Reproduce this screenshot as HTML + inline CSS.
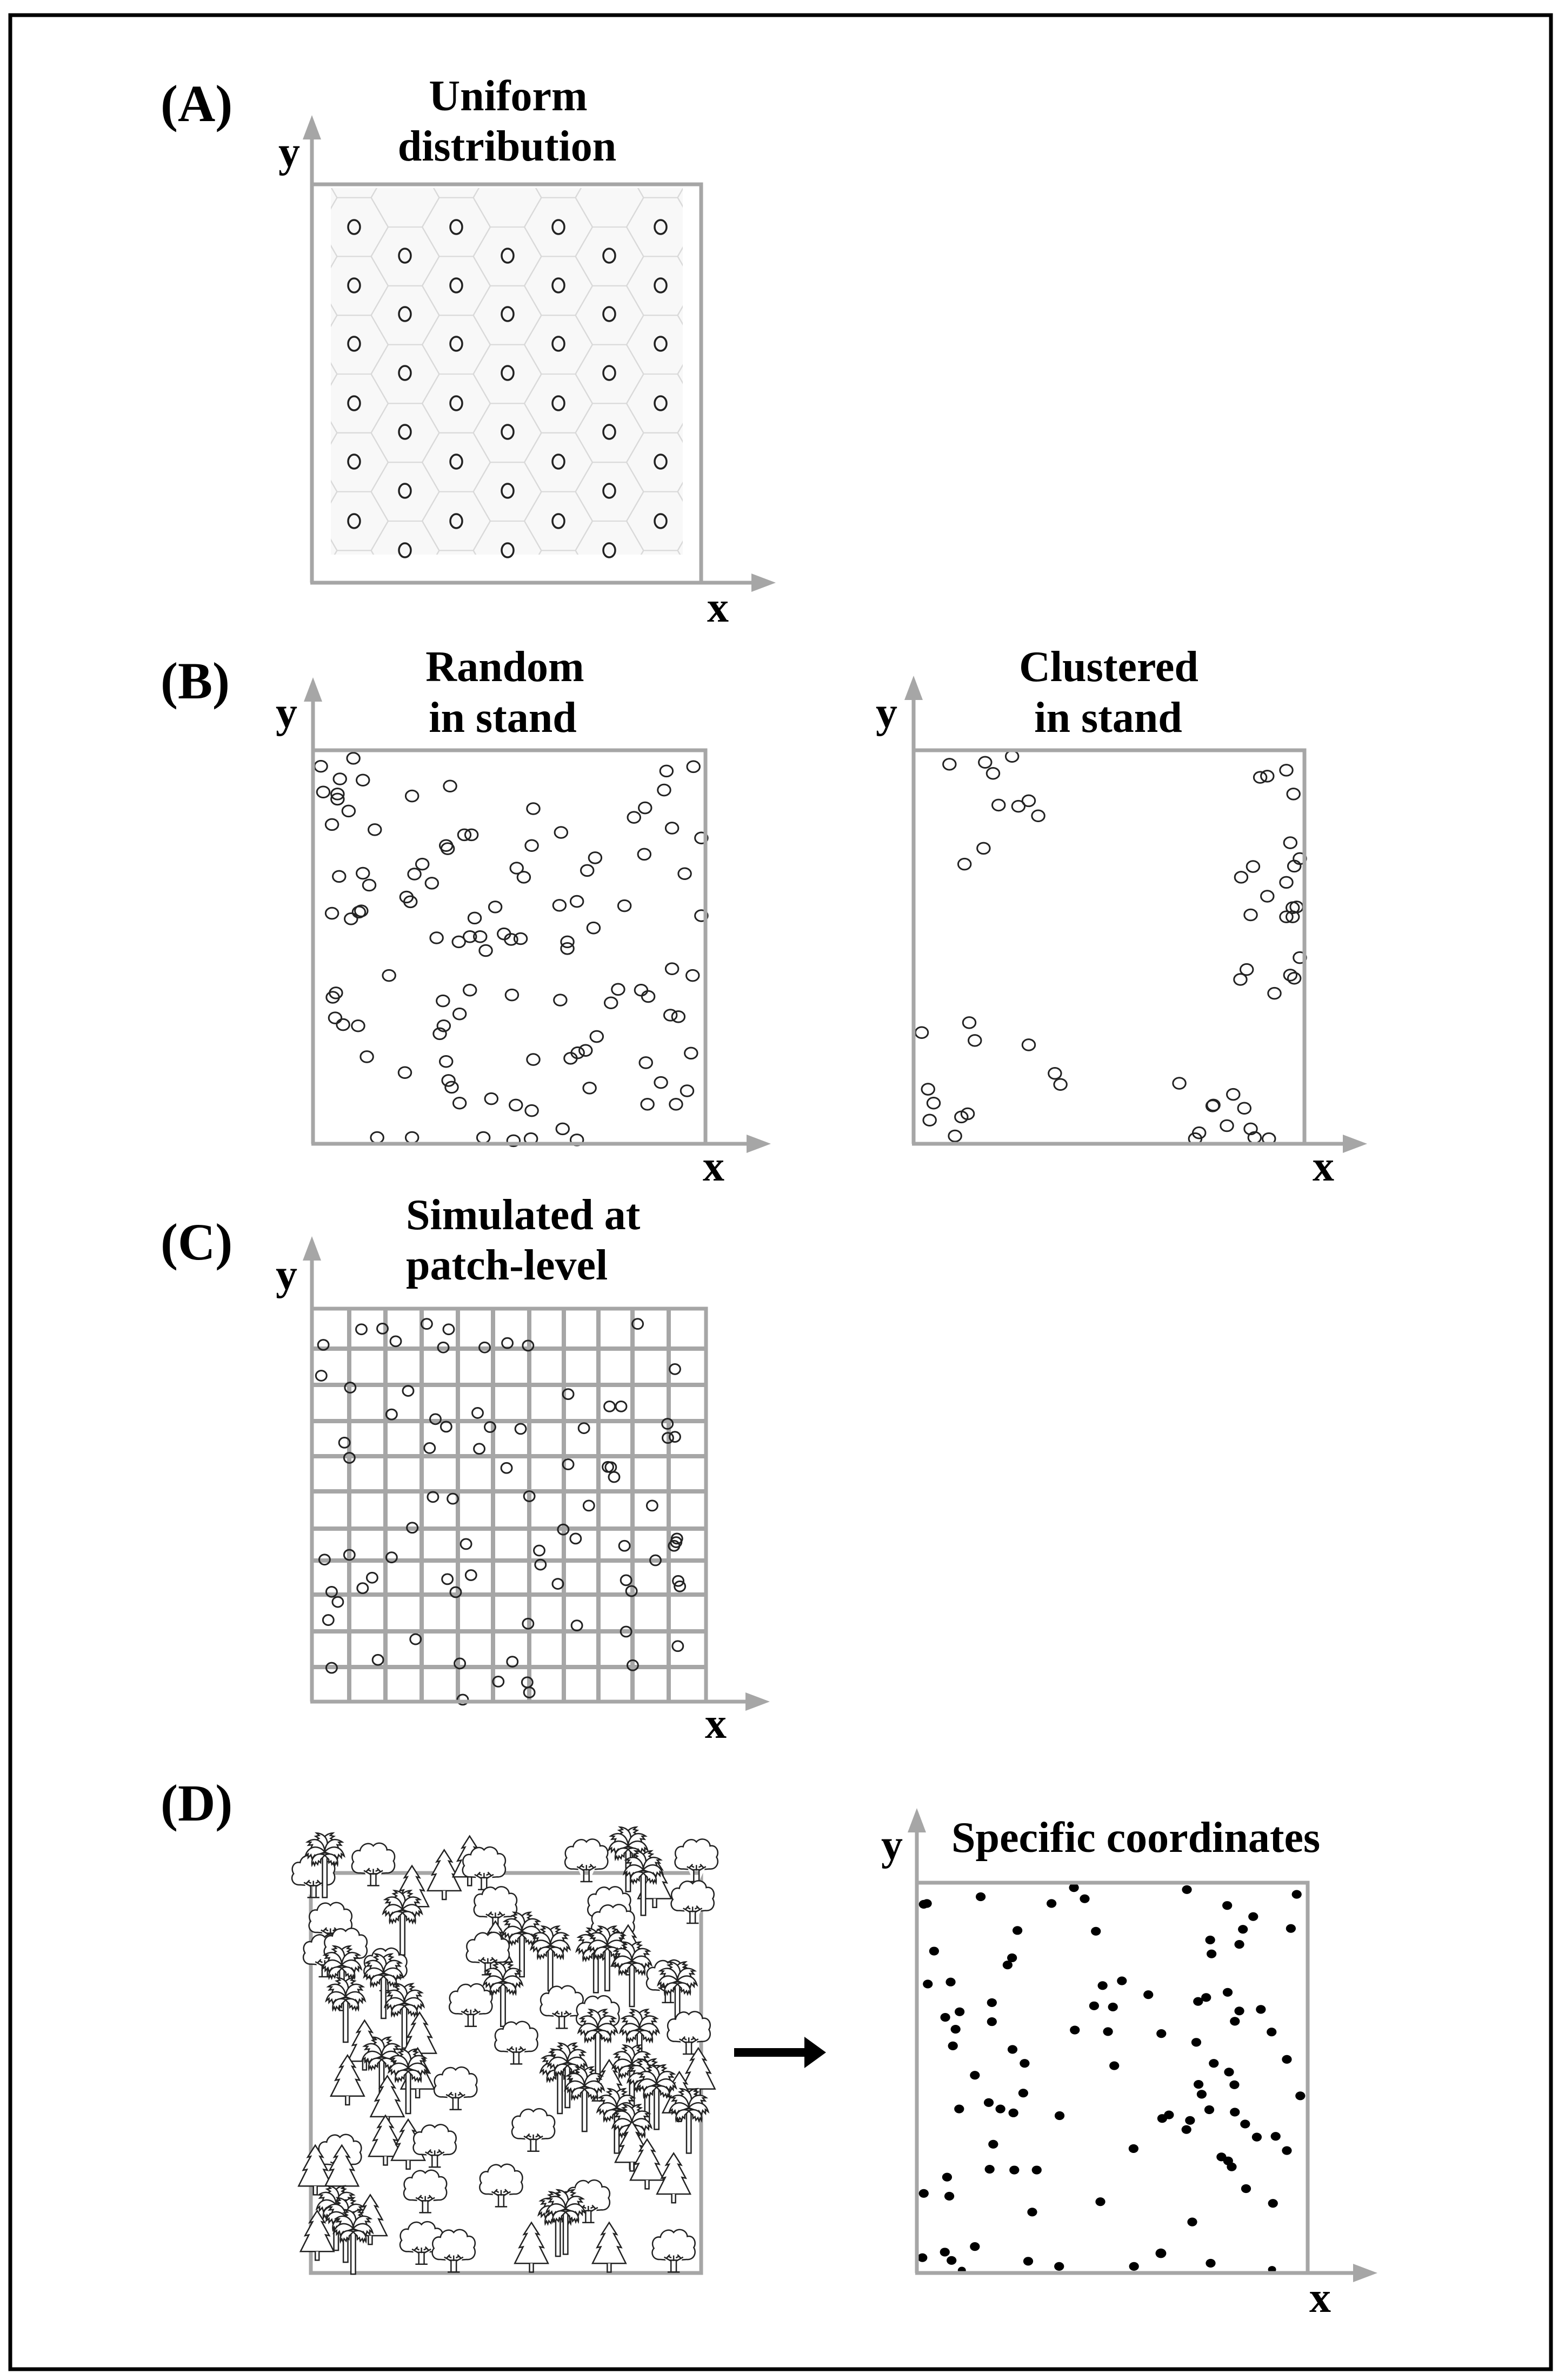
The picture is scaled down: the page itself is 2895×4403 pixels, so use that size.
<!DOCTYPE html>
<html><head><meta charset="utf-8"><style>
html,body{margin:0;padding:0;background:#fff}
svg{display:block}
text{font-family:"Liberation Serif",serif;font-weight:bold;fill:#000}
.ax{stroke:#a6a6a6;stroke-width:7;fill:none}
.ah{fill:#a6a6a6}
.oc{fill:none;stroke:#222;stroke-width:3.5}
.ns{vector-effect:non-scaling-stroke}
</style></head><body>
<svg width="2895" height="4403" viewBox="0 0 2895 4403" xmlns="http://www.w3.org/2000/svg">
<defs>
<path id="hex" d="M-62.7,0 L-31.35,-54.4 L31.35,-54.4 L62.7,0 L31.35,54.4 L-31.35,54.4 Z" fill="none" stroke="#d9d9d9" stroke-width="2"/>
<clipPath id="clipA"><rect x="612" y="348" width="651" height="678"/></clipPath>
<g id="bl">
<path class="ns" fill="#fff" stroke="#222" stroke-width="2.5" d="M-8,-30 L-35,-32 C-55,-30 -62,-50 -52,-60 C-62,-75 -50,-92 -35,-88 C-32,-105 -10,-112 0,-100 C12,-114 35,-106 36,-90 C52,-94 62,-75 53,-62 C62,-48 52,-30 35,-32 L8,-30 Z"/>
<path class="ns" fill="#fff" stroke="#222" stroke-width="2.5" d="M-7,0 L-7,-28 L-25,-38 M7,0 L7,-28 L25,-38 M0,-28 L0,-42 M-16,0 H16 M-18,-36 L-10,-44 M18,-36 L10,-44 M-20,-34 L-14,-40 L-6,-36 M20,-34 L14,-40 L6,-36"/>
</g>
<g id="pn">
<path class="ns" fill="#fff" stroke="#222" stroke-width="2.5" d="M0,-125 L-20,-95 L-12,-97 L-32,-62 L-22,-64 L-44,-22 L44,-22 L22,-64 L32,-62 L12,-97 L20,-95 Z"/>
<path class="ns" fill="#fff" stroke="#222" stroke-width="2.5" d="M-5,-22 V0 H5 V-22"/>
</g>
<path id="leaf" class="ns" fill="#fff" stroke="#222" stroke-width="2.5" d="M0,0 C15,-20 42,-20 52,6 L44,1 L45,11 L37,4 L35,14 L27,6 L24,14 L18,5 C10,3 4,2 0,0 Z"/>
<g id="pm">
<path class="ns" fill="#fff" stroke="#222" stroke-width="2.5" d="M-6,0 V-112 H6 V0 Z"/>
<g transform="translate(0,-115)">
<use href="#leaf" transform="rotate(-72)"/>
<use href="#leaf" transform="scale(-1,1) rotate(-72)"/>
<use href="#leaf" transform="rotate(-35)"/>
<use href="#leaf" transform="scale(-1,1) rotate(-35)"/>
<use href="#leaf" transform="rotate(5)"/>
<use href="#leaf" transform="scale(-1,1) rotate(5)"/>
<use href="#leaf" transform="translate(0,8) rotate(30) scale(0.8)"/>
<use href="#leaf" transform="translate(0,8) scale(-1,1) rotate(30) scale(0.8)"/>
</g>
</g>
</defs>

<rect x="19" y="28" width="2850" height="4355" fill="none" stroke="#000" stroke-width="7"/>

<text x="297" y="224" font-size="96">(A)</text>
<text x="297" y="1292" font-size="96">(B)</text>
<text x="297" y="2330" font-size="96">(C)</text>
<text x="297" y="3368" font-size="96">(D)</text>

<!-- Panel A -->
<rect x="612" y="348" width="651" height="678" fill="#f8f8f8"/>
<g clip-path="url(#clipA)">
<use href="#hex" x="466" y="311.2"/><use href="#hex" x="655" y="311.2"/><use href="#hex" x="844" y="311.2"/><use href="#hex" x="1033" y="311.2"/><use href="#hex" x="1222" y="311.2"/><use href="#hex" x="1411" y="311.2"/>
<use href="#hex" x="466" y="420"/><use href="#hex" x="655" y="420"/><use href="#hex" x="844" y="420"/><use href="#hex" x="1033" y="420"/><use href="#hex" x="1222" y="420"/><use href="#hex" x="1411" y="420"/>
<use href="#hex" x="466" y="528.8"/><use href="#hex" x="655" y="528.8"/><use href="#hex" x="844" y="528.8"/><use href="#hex" x="1033" y="528.8"/><use href="#hex" x="1222" y="528.8"/><use href="#hex" x="1411" y="528.8"/>
<use href="#hex" x="466" y="637.6"/><use href="#hex" x="655" y="637.6"/><use href="#hex" x="844" y="637.6"/><use href="#hex" x="1033" y="637.6"/><use href="#hex" x="1222" y="637.6"/><use href="#hex" x="1411" y="637.6"/>
<use href="#hex" x="466" y="746.4"/><use href="#hex" x="655" y="746.4"/><use href="#hex" x="844" y="746.4"/><use href="#hex" x="1033" y="746.4"/><use href="#hex" x="1222" y="746.4"/><use href="#hex" x="1411" y="746.4"/>
<use href="#hex" x="466" y="855.2"/><use href="#hex" x="655" y="855.2"/><use href="#hex" x="844" y="855.2"/><use href="#hex" x="1033" y="855.2"/><use href="#hex" x="1222" y="855.2"/><use href="#hex" x="1411" y="855.2"/>
<use href="#hex" x="466" y="964"/><use href="#hex" x="655" y="964"/><use href="#hex" x="844" y="964"/><use href="#hex" x="1033" y="964"/><use href="#hex" x="1222" y="964"/><use href="#hex" x="1411" y="964"/>
<use href="#hex" x="466" y="1072.8"/><use href="#hex" x="655" y="1072.8"/><use href="#hex" x="844" y="1072.8"/><use href="#hex" x="1033" y="1072.8"/><use href="#hex" x="1222" y="1072.8"/><use href="#hex" x="1411" y="1072.8"/>
<use href="#hex" x="560.5" y="365.6"/><use href="#hex" x="749.5" y="365.6"/><use href="#hex" x="938.5" y="365.6"/><use href="#hex" x="1127.5" y="365.6"/><use href="#hex" x="1316.5" y="365.6"/>
<use href="#hex" x="560.5" y="474.4"/><use href="#hex" x="749.5" y="474.4"/><use href="#hex" x="938.5" y="474.4"/><use href="#hex" x="1127.5" y="474.4"/><use href="#hex" x="1316.5" y="474.4"/>
<use href="#hex" x="560.5" y="583.2"/><use href="#hex" x="749.5" y="583.2"/><use href="#hex" x="938.5" y="583.2"/><use href="#hex" x="1127.5" y="583.2"/><use href="#hex" x="1316.5" y="583.2"/>
<use href="#hex" x="560.5" y="692"/><use href="#hex" x="749.5" y="692"/><use href="#hex" x="938.5" y="692"/><use href="#hex" x="1127.5" y="692"/><use href="#hex" x="1316.5" y="692"/>
<use href="#hex" x="560.5" y="800.8"/><use href="#hex" x="749.5" y="800.8"/><use href="#hex" x="938.5" y="800.8"/><use href="#hex" x="1127.5" y="800.8"/><use href="#hex" x="1316.5" y="800.8"/>
<use href="#hex" x="560.5" y="909.6"/><use href="#hex" x="749.5" y="909.6"/><use href="#hex" x="938.5" y="909.6"/><use href="#hex" x="1127.5" y="909.6"/><use href="#hex" x="1316.5" y="909.6"/>
<use href="#hex" x="560.5" y="1018.4"/><use href="#hex" x="749.5" y="1018.4"/><use href="#hex" x="938.5" y="1018.4"/><use href="#hex" x="1127.5" y="1018.4"/><use href="#hex" x="1316.5" y="1018.4"/>
</g>
<g class="oc">
<ellipse cx="655" cy="420" rx="11" ry="13"/><ellipse cx="844" cy="420" rx="11" ry="13"/><ellipse cx="1033" cy="420" rx="11" ry="13"/><ellipse cx="1222" cy="420" rx="11" ry="13"/>
<ellipse cx="655" cy="528" rx="11" ry="13"/><ellipse cx="844" cy="528" rx="11" ry="13"/><ellipse cx="1033" cy="528" rx="11" ry="13"/><ellipse cx="1222" cy="528" rx="11" ry="13"/>
<ellipse cx="655" cy="636" rx="11" ry="13"/><ellipse cx="844" cy="636" rx="11" ry="13"/><ellipse cx="1033" cy="636" rx="11" ry="13"/><ellipse cx="1222" cy="636" rx="11" ry="13"/>
<ellipse cx="655" cy="746" rx="11" ry="13"/><ellipse cx="844" cy="746" rx="11" ry="13"/><ellipse cx="1033" cy="746" rx="11" ry="13"/><ellipse cx="1222" cy="746" rx="11" ry="13"/>
<ellipse cx="655" cy="854" rx="11" ry="13"/><ellipse cx="844" cy="854" rx="11" ry="13"/><ellipse cx="1033" cy="854" rx="11" ry="13"/><ellipse cx="1222" cy="854" rx="11" ry="13"/>
<ellipse cx="655" cy="964" rx="11" ry="13"/><ellipse cx="844" cy="964" rx="11" ry="13"/><ellipse cx="1033" cy="964" rx="11" ry="13"/><ellipse cx="1222" cy="964" rx="11" ry="13"/>
<ellipse cx="749" cy="473" rx="11" ry="13"/><ellipse cx="939" cy="473" rx="11" ry="13"/><ellipse cx="1127" cy="473" rx="11" ry="13"/>
<ellipse cx="749" cy="581" rx="11" ry="13"/><ellipse cx="939" cy="581" rx="11" ry="13"/><ellipse cx="1127" cy="581" rx="11" ry="13"/>
<ellipse cx="749" cy="690" rx="11" ry="13"/><ellipse cx="939" cy="690" rx="11" ry="13"/><ellipse cx="1127" cy="690" rx="11" ry="13"/>
<ellipse cx="749" cy="799" rx="11" ry="13"/><ellipse cx="939" cy="799" rx="11" ry="13"/><ellipse cx="1127" cy="799" rx="11" ry="13"/>
<ellipse cx="749" cy="908" rx="11" ry="13"/><ellipse cx="939" cy="908" rx="11" ry="13"/><ellipse cx="1127" cy="908" rx="11" ry="13"/>
<ellipse cx="749" cy="1018" rx="11" ry="13"/><ellipse cx="939" cy="1018" rx="11" ry="13"/><ellipse cx="1127" cy="1018" rx="11" ry="13"/>
</g>
<path class="ax" d="M577,1078 V250 M577,341 H1297 V1078 M574,1078 H1395"/>
<polygon class="ah" points="560,258 577,213 594,258"/>
<polygon class="ah" points="1390,1061 1435,1078 1390,1095"/>
<text x="940" y="204" font-size="80" text-anchor="middle">Uniform</text>
<text x="938" y="297" font-size="80" text-anchor="middle">distribution</text>
<text x="515" y="308" font-size="80">y</text>
<text x="1308" y="1150" font-size="80">x</text>

<!-- Panel B -->
<g transform="translate(400,1150) scale(1.4663,0.7331)" fill="none" stroke="#222">
<g stroke-width="3">
<ellipse class="ns" cx="132" cy="365" rx="8" ry="14"/><ellipse class="ns" cx="173" cy="345" rx="8" ry="14"/><ellipse class="ns" cx="156" cy="397" rx="8" ry="14"/><ellipse class="ns" cx="185" cy="400" rx="8" ry="14"/><ellipse class="ns" cx="135" cy="430" rx="8" ry="14"/><ellipse class="ns" cx="153" cy="435" rx="8" ry="14"/><ellipse class="ns" cx="153" cy="448" rx="8" ry="14"/><ellipse class="ns" cx="167" cy="478" rx="8" ry="14"/><ellipse class="ns" cx="146" cy="512" rx="8" ry="14"/><ellipse class="ns" cx="200" cy="525" rx="8" ry="14"/><ellipse class="ns" cx="247" cy="440" rx="8" ry="14"/><ellipse class="ns" cx="295" cy="415" rx="8" ry="14"/><ellipse class="ns" cx="400" cy="472" rx="8" ry="14"/><ellipse class="ns" cx="435" cy="532" rx="8" ry="14"/><ellipse class="ns" cx="398" cy="565" rx="8" ry="14"/><ellipse class="ns" cx="290" cy="565" rx="8" ry="14"/><ellipse class="ns" cx="292" cy="573" rx="8" ry="14"/><ellipse class="ns" cx="313" cy="538" rx="8" ry="14"/><ellipse class="ns" cx="322" cy="538" rx="8" ry="14"/><ellipse class="ns" cx="260" cy="612" rx="8" ry="14"/><ellipse class="ns" cx="250" cy="637" rx="8" ry="14"/><ellipse class="ns" cx="272" cy="660" rx="8" ry="14"/><ellipse class="ns" cx="185" cy="635" rx="8" ry="14"/><ellipse class="ns" cx="193" cy="665" rx="8" ry="14"/><ellipse class="ns" cx="155" cy="643" rx="8" ry="14"/><ellipse class="ns" cx="240" cy="695" rx="8" ry="14"/><ellipse class="ns" cx="245" cy="707" rx="8" ry="14"/><ellipse class="ns" cx="146" cy="736" rx="8" ry="14"/><ellipse class="ns" cx="170" cy="750" rx="8" ry="14"/><ellipse class="ns" cx="180" cy="733" rx="8" ry="14"/><ellipse class="ns" cx="183" cy="730" rx="8" ry="14"/><ellipse class="ns" cx="352" cy="720" rx="8" ry="14"/><ellipse class="ns" cx="326" cy="748" rx="8" ry="14"/><ellipse class="ns" cx="278" cy="798" rx="8" ry="14"/><ellipse class="ns" cx="306" cy="808" rx="8" ry="14"/><ellipse class="ns" cx="320" cy="795" rx="8" ry="14"/><ellipse class="ns" cx="333" cy="795" rx="8" ry="14"/><ellipse class="ns" cx="340" cy="830" rx="8" ry="14"/><ellipse class="ns" cx="363" cy="788" rx="8" ry="14"/><ellipse class="ns" cx="372" cy="802" rx="8" ry="14"/><ellipse class="ns" cx="384" cy="800" rx="8" ry="14"/><ellipse class="ns" cx="379" cy="622" rx="8" ry="14"/><ellipse class="ns" cx="388" cy="645" rx="8" ry="14"/><ellipse class="ns" cx="433" cy="716" rx="8" ry="14"/><ellipse class="ns" cx="455" cy="706" rx="8" ry="14"/><ellipse class="ns" cx="476" cy="773" rx="8" ry="14"/><ellipse class="ns" cx="515" cy="717" rx="8" ry="14"/><ellipse class="ns" cx="443" cy="808" rx="8" ry="14"/><ellipse class="ns" cx="443" cy="825" rx="8" ry="14"/><ellipse class="ns" cx="468" cy="628" rx="8" ry="14"/><ellipse class="ns" cx="478" cy="596" rx="8" ry="14"/><ellipse class="ns" cx="540" cy="587" rx="8" ry="14"/><ellipse class="ns" cx="527" cy="494" rx="8" ry="14"/><ellipse class="ns" cx="541" cy="470" rx="8" ry="14"/><ellipse class="ns" cx="575" cy="521" rx="8" ry="14"/><ellipse class="ns" cx="565" cy="425" rx="8" ry="14"/><ellipse class="ns" cx="568" cy="377" rx="8" ry="14"/><ellipse class="ns" cx="602" cy="366" rx="8" ry="14"/><ellipse class="ns" cx="612" cy="546" rx="8" ry="14"/><ellipse class="ns" cx="591" cy="636" rx="8" ry="14"/><ellipse class="ns" cx="612" cy="742" rx="8" ry="14"/><ellipse class="ns" cx="218" cy="893" rx="8" ry="14"/><ellipse class="ns" cx="151" cy="937" rx="8" ry="14"/><ellipse class="ns" cx="147" cy="948" rx="8" ry="14"/><ellipse class="ns" cx="286" cy="957" rx="8" ry="14"/><ellipse class="ns" cx="320" cy="930" rx="8" ry="14"/><ellipse class="ns" cx="373" cy="942" rx="8" ry="14"/><ellipse class="ns" cx="434" cy="955" rx="8" ry="14"/><ellipse class="ns" cx="307" cy="990" rx="8" ry="14"/><ellipse class="ns" cx="287" cy="1020" rx="8" ry="14"/><ellipse class="ns" cx="282" cy="1040" rx="8" ry="14"/><ellipse class="ns" cx="150" cy="1000" rx="8" ry="14"/><ellipse class="ns" cx="160" cy="1017" rx="8" ry="14"/><ellipse class="ns" cx="179" cy="1020" rx="8" ry="14"/><ellipse class="ns" cx="190" cy="1098" rx="8" ry="14"/><ellipse class="ns" cx="238" cy="1138" rx="8" ry="14"/><ellipse class="ns" cx="290" cy="1110" rx="8" ry="14"/><ellipse class="ns" cx="293" cy="1158" rx="8" ry="14"/><ellipse class="ns" cx="297" cy="1175" rx="8" ry="14"/><ellipse class="ns" cx="307" cy="1215" rx="8" ry="14"/><ellipse class="ns" cx="347" cy="1204" rx="8" ry="14"/><ellipse class="ns" cx="378" cy="1220" rx="8" ry="14"/><ellipse class="ns" cx="398" cy="1234" rx="8" ry="14"/><ellipse class="ns" cx="400" cy="1105" rx="8" ry="14"/><ellipse class="ns" cx="447" cy="1102" rx="8" ry="14"/><ellipse class="ns" cx="456" cy="1088" rx="8" ry="14"/><ellipse class="ns" cx="466" cy="1082" rx="8" ry="14"/><ellipse class="ns" cx="480" cy="1047" rx="8" ry="14"/><ellipse class="ns" cx="498" cy="962" rx="8" ry="14"/><ellipse class="ns" cx="507" cy="928" rx="8" ry="14"/><ellipse class="ns" cx="536" cy="930" rx="8" ry="14"/><ellipse class="ns" cx="545" cy="946" rx="8" ry="14"/><ellipse class="ns" cx="575" cy="876" rx="8" ry="14"/><ellipse class="ns" cx="601" cy="893" rx="8" ry="14"/><ellipse class="ns" cx="573" cy="993" rx="8" ry="14"/><ellipse class="ns" cx="583" cy="997" rx="8" ry="14"/><ellipse class="ns" cx="599" cy="1089" rx="8" ry="14"/><ellipse class="ns" cx="542" cy="1113" rx="8" ry="14"/><ellipse class="ns" cx="561" cy="1163" rx="8" ry="14"/><ellipse class="ns" cx="594" cy="1184" rx="8" ry="14"/><ellipse class="ns" cx="580" cy="1218" rx="8" ry="14"/><ellipse class="ns" cx="544" cy="1218" rx="8" ry="14"/><ellipse class="ns" cx="471" cy="1177" rx="8" ry="14"/><ellipse class="ns" cx="437" cy="1280" rx="8" ry="14"/><ellipse class="ns" cx="203" cy="1302" rx="8" ry="14"/><ellipse class="ns" cx="247" cy="1302" rx="8" ry="14"/><ellipse class="ns" cx="337" cy="1302" rx="8" ry="14"/><ellipse class="ns" cx="375" cy="1310" rx="8" ry="14"/><ellipse class="ns" cx="397" cy="1305" rx="8" ry="14"/><ellipse class="ns" cx="455" cy="1308" rx="8" ry="14"/>
<ellipse class="ns" cx="925" cy="360" rx="8" ry="14"/><ellipse class="ns" cx="970" cy="355" rx="8" ry="14"/><ellipse class="ns" cx="1004" cy="340" rx="8" ry="14"/><ellipse class="ns" cx="980" cy="383" rx="8" ry="14"/><ellipse class="ns" cx="987" cy="463" rx="8" ry="14"/><ellipse class="ns" cx="1012" cy="466" rx="8" ry="14"/><ellipse class="ns" cx="1025" cy="452" rx="8" ry="14"/><ellipse class="ns" cx="1037" cy="490" rx="8" ry="14"/><ellipse class="ns" cx="968" cy="572" rx="8" ry="14"/><ellipse class="ns" cx="944" cy="612" rx="8" ry="14"/><ellipse class="ns" cx="1317" cy="393" rx="8" ry="14"/><ellipse class="ns" cx="1326" cy="390" rx="8" ry="14"/><ellipse class="ns" cx="1350" cy="375" rx="8" ry="14"/><ellipse class="ns" cx="1359" cy="435" rx="8" ry="14"/><ellipse class="ns" cx="1355" cy="558" rx="8" ry="14"/><ellipse class="ns" cx="1367" cy="598" rx="8" ry="14"/><ellipse class="ns" cx="1360" cy="617" rx="8" ry="14"/><ellipse class="ns" cx="1308" cy="618" rx="8" ry="14"/><ellipse class="ns" cx="1293" cy="645" rx="8" ry="14"/><ellipse class="ns" cx="1350" cy="658" rx="8" ry="14"/><ellipse class="ns" cx="1326" cy="693" rx="8" ry="14"/><ellipse class="ns" cx="1358" cy="722" rx="8" ry="14"/><ellipse class="ns" cx="1363" cy="720" rx="8" ry="14"/><ellipse class="ns" cx="1350" cy="745" rx="8" ry="14"/><ellipse class="ns" cx="1358" cy="745" rx="8" ry="14"/><ellipse class="ns" cx="1305" cy="740" rx="8" ry="14"/><ellipse class="ns" cx="1367" cy="848" rx="8" ry="14"/><ellipse class="ns" cx="1300" cy="878" rx="8" ry="14"/><ellipse class="ns" cx="1292" cy="903" rx="8" ry="14"/><ellipse class="ns" cx="1355" cy="892" rx="8" ry="14"/><ellipse class="ns" cx="1360" cy="900" rx="8" ry="14"/><ellipse class="ns" cx="1335" cy="938" rx="8" ry="14"/><ellipse class="ns" cx="890" cy="1037" rx="8" ry="14"/><ellipse class="ns" cx="950" cy="1012" rx="8" ry="14"/><ellipse class="ns" cx="957" cy="1057" rx="8" ry="14"/><ellipse class="ns" cx="1025" cy="1068" rx="8" ry="14"/><ellipse class="ns" cx="1058" cy="1140" rx="8" ry="14"/><ellipse class="ns" cx="1065" cy="1168" rx="8" ry="14"/><ellipse class="ns" cx="898" cy="1180" rx="8" ry="14"/><ellipse class="ns" cx="905" cy="1215" rx="8" ry="14"/><ellipse class="ns" cx="900" cy="1258" rx="8" ry="14"/><ellipse class="ns" cx="940" cy="1250" rx="8" ry="14"/><ellipse class="ns" cx="948" cy="1242" rx="8" ry="14"/><ellipse class="ns" cx="932" cy="1298" rx="8" ry="14"/><ellipse class="ns" cx="1215" cy="1165" rx="8" ry="14"/><ellipse class="ns" cx="1283" cy="1193" rx="8" ry="14"/><ellipse class="ns" cx="1257" cy="1222" rx="8" ry="14"/><ellipse class="ns" cx="1258" cy="1220" rx="8" ry="14"/><ellipse class="ns" cx="1297" cy="1228" rx="8" ry="14"/><ellipse class="ns" cx="1275" cy="1272" rx="8" ry="14"/><ellipse class="ns" cx="1305" cy="1280" rx="8" ry="14"/><ellipse class="ns" cx="1240" cy="1290" rx="8" ry="14"/><ellipse class="ns" cx="1235" cy="1305" rx="8" ry="14"/><ellipse class="ns" cx="1310" cy="1302" rx="8" ry="14"/><ellipse class="ns" cx="1328" cy="1305" rx="8" ry="14"/>
</g></g>
<path class="ax" d="M579,2116 V1295 M579,1388 H1305 V2116 M576,2116 H1386"/>
<polygon class="ah" points="562,1298 579,1253 596,1298"/>
<polygon class="ah" points="1381,2099 1426,2116 1381,2133"/>
<path class="ax" d="M1690,2116 V1292 M1690,1388 H2413 V2116 M1687,2116 H2489"/>
<polygon class="ah" points="1673,1295 1690,1250 1707,1295"/>
<polygon class="ah" points="2484,2099 2529,2116 2484,2133"/>
<text x="934" y="1260" font-size="80" text-anchor="middle">Random</text>
<text x="930" y="1354" font-size="80" text-anchor="middle">in stand</text>
<text x="2051" y="1260" font-size="80" text-anchor="middle">Clustered</text>
<text x="2050" y="1354" font-size="80" text-anchor="middle">in stand</text>
<text x="510" y="1345" font-size="80">y</text>
<text x="1620" y="1345" font-size="80">y</text>
<text x="1300" y="2184" font-size="80">x</text>
<text x="2428" y="2184" font-size="80">x</text>

<!-- Panel C -->
<g stroke="#a6a6a6" stroke-width="8" fill="none">
<path d="M646,2421 V3148 M713,2421 V3148 M780,2421 V3148 M847,2421 V3148 M912,2421 V3148 M979,2421 V3148 M1043,2421 V3148 M1107,2421 V3148 M1170,2421 V3148 M1237,2421 V3148"/>
<path d="M577,2495 H1306 M577,2562 H1306 M577,2629 H1306 M577,2694 H1306 M577,2759 H1306 M577,2828 H1306 M577,2887 H1306 M577,2950 H1306 M577,3018 H1306 M577,3084 H1306"/>
</g>
<g transform="translate(250,2200) scale(0.7651,0.6698)" fill="none" stroke="#222" stroke-width="3">
<ellipse class="ns" cx="455" cy="430" rx="13" ry="14"/><ellipse class="ns" cx="547" cy="387" rx="13" ry="14"/><ellipse class="ns" cx="598" cy="385" rx="13" ry="14"/><ellipse class="ns" cx="630" cy="420" rx="13" ry="14"/><ellipse class="ns" cx="705" cy="372" rx="13" ry="14"/><ellipse class="ns" cx="758" cy="387" rx="13" ry="14"/><ellipse class="ns" cx="745" cy="437" rx="13" ry="14"/><ellipse class="ns" cx="845" cy="437" rx="13" ry="14"/><ellipse class="ns" cx="900" cy="425" rx="13" ry="14"/><ellipse class="ns" cx="950" cy="432" rx="13" ry="14"/><ellipse class="ns" cx="1215" cy="372" rx="13" ry="14"/><ellipse class="ns" cx="450" cy="515" rx="13" ry="14"/><ellipse class="ns" cx="520" cy="548" rx="13" ry="14"/><ellipse class="ns" cx="660" cy="557" rx="13" ry="14"/><ellipse class="ns" cx="1305" cy="497" rx="13" ry="14"/><ellipse class="ns" cx="1047" cy="566" rx="13" ry="14"/><ellipse class="ns" cx="1147" cy="600" rx="13" ry="14"/><ellipse class="ns" cx="1175" cy="600" rx="13" ry="14"/><ellipse class="ns" cx="620" cy="622" rx="13" ry="14"/><ellipse class="ns" cx="726" cy="635" rx="13" ry="14"/><ellipse class="ns" cx="752" cy="656" rx="13" ry="14"/><ellipse class="ns" cx="828" cy="618" rx="13" ry="14"/><ellipse class="ns" cx="858" cy="657" rx="13" ry="14"/><ellipse class="ns" cx="932" cy="662" rx="13" ry="14"/><ellipse class="ns" cx="1085" cy="660" rx="13" ry="14"/><ellipse class="ns" cx="1287" cy="648" rx="13" ry="14"/><ellipse class="ns" cx="1288" cy="687" rx="13" ry="14"/><ellipse class="ns" cx="1305" cy="684" rx="13" ry="14"/><ellipse class="ns" cx="506" cy="700" rx="13" ry="14"/><ellipse class="ns" cx="518" cy="742" rx="13" ry="14"/><ellipse class="ns" cx="712" cy="715" rx="13" ry="14"/><ellipse class="ns" cx="832" cy="717" rx="13" ry="14"/><ellipse class="ns" cx="898" cy="770" rx="13" ry="14"/><ellipse class="ns" cx="1047" cy="760" rx="13" ry="14"/><ellipse class="ns" cx="1143" cy="767" rx="13" ry="14"/><ellipse class="ns" cx="1150" cy="768" rx="13" ry="14"/><ellipse class="ns" cx="1158" cy="795" rx="13" ry="14"/><ellipse class="ns" cx="720" cy="850" rx="13" ry="14"/><ellipse class="ns" cx="768" cy="855" rx="13" ry="14"/><ellipse class="ns" cx="953" cy="848" rx="13" ry="14"/><ellipse class="ns" cx="1097" cy="874" rx="13" ry="14"/><ellipse class="ns" cx="1250" cy="874" rx="13" ry="14"/><ellipse class="ns" cx="670" cy="935" rx="13" ry="14"/><ellipse class="ns" cx="1035" cy="940" rx="13" ry="14"/><ellipse class="ns" cx="1065" cy="965" rx="13" ry="14"/><ellipse class="ns" cx="800" cy="980" rx="13" ry="14"/><ellipse class="ns" cx="977" cy="998" rx="13" ry="14"/><ellipse class="ns" cx="980" cy="1037" rx="13" ry="14"/><ellipse class="ns" cx="1183" cy="985" rx="13" ry="14"/><ellipse class="ns" cx="1303" cy="985" rx="13" ry="14"/><ellipse class="ns" cx="1310" cy="965" rx="13" ry="14"/><ellipse class="ns" cx="1308" cy="975" rx="13" ry="14"/><ellipse class="ns" cx="458" cy="1023" rx="13" ry="14"/><ellipse class="ns" cx="518" cy="1010" rx="13" ry="14"/><ellipse class="ns" cx="620" cy="1017" rx="13" ry="14"/><ellipse class="ns" cx="1258" cy="1025" rx="13" ry="14"/><ellipse class="ns" cx="573" cy="1073" rx="13" ry="14"/><ellipse class="ns" cx="550" cy="1102" rx="13" ry="14"/><ellipse class="ns" cx="755" cy="1077" rx="13" ry="14"/><ellipse class="ns" cx="812" cy="1066" rx="13" ry="14"/><ellipse class="ns" cx="1022" cy="1090" rx="13" ry="14"/><ellipse class="ns" cx="1187" cy="1080" rx="13" ry="14"/><ellipse class="ns" cx="1313" cy="1082" rx="13" ry="14"/><ellipse class="ns" cx="1317" cy="1097" rx="13" ry="14"/><ellipse class="ns" cx="475" cy="1112" rx="13" ry="14"/><ellipse class="ns" cx="490" cy="1140" rx="13" ry="14"/><ellipse class="ns" cx="775" cy="1113" rx="13" ry="14"/><ellipse class="ns" cx="1200" cy="1110" rx="13" ry="14"/><ellipse class="ns" cx="467" cy="1190" rx="13" ry="14"/><ellipse class="ns" cx="950" cy="1200" rx="13" ry="14"/><ellipse class="ns" cx="1068" cy="1205" rx="13" ry="14"/><ellipse class="ns" cx="1187" cy="1222" rx="13" ry="14"/><ellipse class="ns" cx="678" cy="1243" rx="13" ry="14"/><ellipse class="ns" cx="1312" cy="1262" rx="13" ry="14"/><ellipse class="ns" cx="587" cy="1300" rx="13" ry="14"/><ellipse class="ns" cx="475" cy="1322" rx="13" ry="14"/><ellipse class="ns" cx="785" cy="1310" rx="13" ry="14"/><ellipse class="ns" cx="912" cy="1305" rx="13" ry="14"/><ellipse class="ns" cx="1203" cy="1315" rx="13" ry="14"/><ellipse class="ns" cx="878" cy="1360" rx="13" ry="14"/><ellipse class="ns" cx="948" cy="1362" rx="13" ry="14"/><ellipse class="ns" cx="953" cy="1390" rx="13" ry="14"/><ellipse class="ns" cx="792" cy="1410" rx="13" ry="14"/>
</g>
<path class="ax" d="M577,3148 V2330 M577,2421 H1306 V3148 M574,3148 H1384"/>
<polygon class="ah" points="560,2332 577,2287 594,2332"/>
<polygon class="ah" points="1379,3131 1424,3148 1379,3165"/>
<text x="751" y="2274" font-size="80">Simulated at</text>
<text x="751" y="2367" font-size="80">patch-level</text>
<text x="510" y="2385" font-size="80">y</text>
<text x="1304" y="3215" font-size="80">x</text>

<!-- Panel D left -->
<rect x="575" y="3465" width="722" height="740" fill="none" stroke="#a6a6a6" stroke-width="7"/>
<g transform="translate(250,3250) scale(0.7015,0.7334)">
<use href="#bl" x="470" y="355"/><use href="#pm" x="500" y="355"/><use href="#bl" x="628" y="325"/><use href="#pn" x="815" y="360"/><use href="#pn" x="882" y="325"/><use href="#bl" x="920" y="335"/><use href="#bl" x="1190" y="315"/><use href="#bl" x="1480" y="315"/><use href="#pm" x="1300" y="340"/><use href="#pn" x="1370" y="380"/>
<use href="#pn" x="730" y="400"/><use href="#pm" x="1340" y="400"/><use href="#bl" x="950" y="435"/><use href="#bl" x="1250" y="435"/><use href="#bl" x="1470" y="420"/><use href="#bl" x="515" y="475"/><use href="#bl" x="1260" y="480"/><use href="#pm" x="705" y="500"/>
<use href="#bl" x="500" y="555"/><use href="#bl" x="555" y="540"/><use href="#pn" x="950" y="540"/><use href="#pn" x="1300" y="550"/><use href="#bl" x="930" y="550"/><use href="#pm" x="1020" y="555"/><use href="#pm" x="1095" y="590"/><use href="#pm" x="1215" y="595"/><use href="#pm" x="1245" y="590"/>
<use href="#bl" x="660" y="590"/><use href="#bl" x="1405" y="620"/><use href="#pm" x="1310" y="630"/><use href="#pm" x="545" y="640"/><use href="#pm" x="655" y="660"/><use href="#bl" x="885" y="680"/><use href="#pm" x="970" y="680"/><use href="#bl" x="1125" y="685"/><use href="#pm" x="1430" y="680"/>
<use href="#bl" x="1220" y="710"/><use href="#pm" x="555" y="720"/><use href="#pm" x="710" y="735"/><use href="#bl" x="1460" y="750"/><use href="#bl" x="1005" y="775"/><use href="#pn" x="750" y="770"/><use href="#pn" x="605" y="790"/><use href="#pm" x="1220" y="800"/><use href="#pm" x="1330" y="800"/>
<use href="#pn" x="745" y="860"/><use href="#pn" x="560" y="878"/><use href="#pm" x="650" y="870"/><use href="#pm" x="720" y="900"/><use href="#bl" x="845" y="890"/><use href="#pn" x="1250" y="890"/><use href="#pm" x="1120" y="900"/><use href="#pm" x="1140" y="885"/><use href="#pm" x="1310" y="890"/><use href="#pn" x="1485" y="860"/>
<use href="#pn" x="1435" y="920"/><use href="#pm" x="1350" y="925"/><use href="#pm" x="1375" y="940"/><use href="#pm" x="1185" y="945"/><use href="#pn" x="665" y="930"/><use href="#bl" x="1050" y="995"/><use href="#pm" x="1460" y="1000"/><use href="#pm" x="1270" y="1000"/>
<use href="#pn" x="660" y="1030"/><use href="#pn" x="720" y="1040"/><use href="#bl" x="790" y="1035"/><use href="#pm" x="1310" y="1040"/><use href="#pn" x="1310" y="1045"/><use href="#bl" x="540" y="1060"/><use href="#pn" x="1350" y="1090"/><use href="#pn" x="475" y="1105"/><use href="#pn" x="545" y="1105"/><use href="#pn" x="1420" y="1125"/>
<use href="#bl" x="965" y="1135"/><use href="#bl" x="765" y="1150"/><use href="#bl" x="1195" y="1175"/><use href="#pn" x="620" y="1230"/><use href="#pm" x="530" y="1245"/><use href="#pm" x="1115" y="1260"/><use href="#pm" x="1135" y="1255"/><use href="#pn" x="480" y="1270"/><use href="#pm" x="555" y="1275"/>
<use href="#bl" x="755" y="1280"/><use href="#bl" x="840" y="1300"/><use href="#pn" x="1045" y="1300"/><use href="#pn" x="1250" y="1300"/><use href="#bl" x="1420" y="1300"/><use href="#pm" x="575" y="1305"/>
</g>

<polygon points="1358,3789 1488,3789 1488,3768 1528,3797 1488,3826 1488,3805 1358,3805" fill="#000"/>

<!-- Panel D right -->
<g transform="translate(1300,3250) scale(0.8292,0.7337)" fill="#000">
<circle cx="493" cy="372" r="11"/><circle cx="500" cy="370" r="11"/><circle cx="620" cy="353" r="11"/><circle cx="778" cy="370" r="11"/><circle cx="828" cy="330" r="11"/><circle cx="852" cy="358" r="11"/><circle cx="1080" cy="335" r="11"/><circle cx="1170" cy="375" r="11"/><circle cx="1325" cy="347" r="11"/><circle cx="1228" cy="403" r="11"/><circle cx="1205" cy="435" r="11"/><circle cx="1312" cy="433" r="11"/><circle cx="702" cy="438" r="11"/><circle cx="877" cy="440" r="11"/><circle cx="1132" cy="462" r="11"/><circle cx="1197" cy="473" r="11"/><circle cx="1135" cy="497" r="11"/><circle cx="516" cy="490" r="11"/><circle cx="690" cy="507" r="11"/><circle cx="680" cy="525" r="11"/><circle cx="502" cy="573" r="11"/><circle cx="553" cy="568" r="11"/><circle cx="645" cy="620" r="11"/><circle cx="573" cy="643" r="11"/><circle cx="541" cy="657" r="11"/><circle cx="564" cy="687" r="11"/><circle cx="645" cy="668" r="11"/><circle cx="558" cy="729" r="11"/><circle cx="892" cy="577" r="11"/><circle cx="935" cy="565" r="11"/><circle cx="994" cy="600" r="11"/><circle cx="873" cy="628" r="11"/><circle cx="915" cy="631" r="11"/><circle cx="1105" cy="617" r="11"/><circle cx="1123" cy="607" r="11"/><circle cx="1171" cy="594" r="11"/><circle cx="1197" cy="641" r="11"/><circle cx="1187" cy="667" r="11"/><circle cx="1245" cy="637" r="11"/><circle cx="830" cy="689" r="11"/><circle cx="904" cy="693" r="11"/><circle cx="1023" cy="698" r="11"/><circle cx="1101" cy="720" r="11"/><circle cx="1269" cy="694" r="11"/><circle cx="691" cy="738" r="11"/><circle cx="718" cy="773" r="11"/><circle cx="918" cy="779" r="11"/><circle cx="1140" cy="773" r="11"/><circle cx="1303" cy="763" r="11"/><circle cx="607" cy="803" r="11"/><circle cx="1174" cy="795" r="11"/><circle cx="1186" cy="827" r="11"/><circle cx="1106" cy="826" r="11"/><circle cx="1113" cy="851" r="11"/><circle cx="715" cy="848" r="11"/><circle cx="1333" cy="855" r="11"/><circle cx="572" cy="888" r="11"/><circle cx="638" cy="872" r="11"/><circle cx="664" cy="888" r="11"/><circle cx="693" cy="898" r="11"/><circle cx="796" cy="905" r="11"/><circle cx="1130" cy="890" r="11"/><circle cx="1187" cy="896" r="11"/><circle cx="1025" cy="912" r="11"/><circle cx="1040" cy="903" r="11"/><circle cx="1087" cy="917" r="11"/><circle cx="1079" cy="940" r="11"/><circle cx="1210" cy="926" r="11"/><circle cx="1236" cy="959" r="11"/><circle cx="1278" cy="957" r="11"/><circle cx="1303" cy="993" r="11"/><circle cx="648" cy="977" r="11"/><circle cx="961" cy="988" r="11"/><circle cx="1157" cy="1009" r="11"/><circle cx="1172" cy="1019" r="11"/><circle cx="1180" cy="1034" r="11"/><circle cx="640" cy="1040" r="11"/><circle cx="695" cy="1042" r="11"/><circle cx="745" cy="1042" r="11"/><circle cx="545" cy="1060" r="11"/><circle cx="493" cy="1101" r="11"/><circle cx="550" cy="1108" r="11"/><circle cx="887" cy="1122" r="11"/><circle cx="1212" cy="1089" r="11"/><circle cx="1272" cy="1126" r="11"/><circle cx="735" cy="1148" r="11"/><circle cx="1092" cy="1173" r="11"/><circle cx="607" cy="1235" r="11"/><circle cx="540" cy="1249" r="11"/><circle cx="555" cy="1270" r="11"/><circle cx="490" cy="1263" r="11"/><circle cx="726" cy="1272" r="11"/><circle cx="1022" cy="1252" r="12"/><circle cx="795" cy="1285" r="11"/><circle cx="962" cy="1285" r="11"/><circle cx="1133" cy="1277" r="11"/><circle cx="578" cy="1295" r="9"/><circle cx="1270" cy="1293" r="9"/>
</g>
<path class="ax" d="M1696,4205 V3388 M1696,3483 H2419 V4205 M1693,4205 H2508"/>
<polygon class="ah" points="1679,3390 1696,3345 1713,3390"/>
<polygon class="ah" points="2503,4188 2548,4205 2503,4222"/>
<text x="1760" y="3426" font-size="80">Specific coordinates</text>
<text x="1630" y="3440" font-size="80">y</text>
<text x="2422" y="4277" font-size="80">x</text>
</svg>
</body></html>
